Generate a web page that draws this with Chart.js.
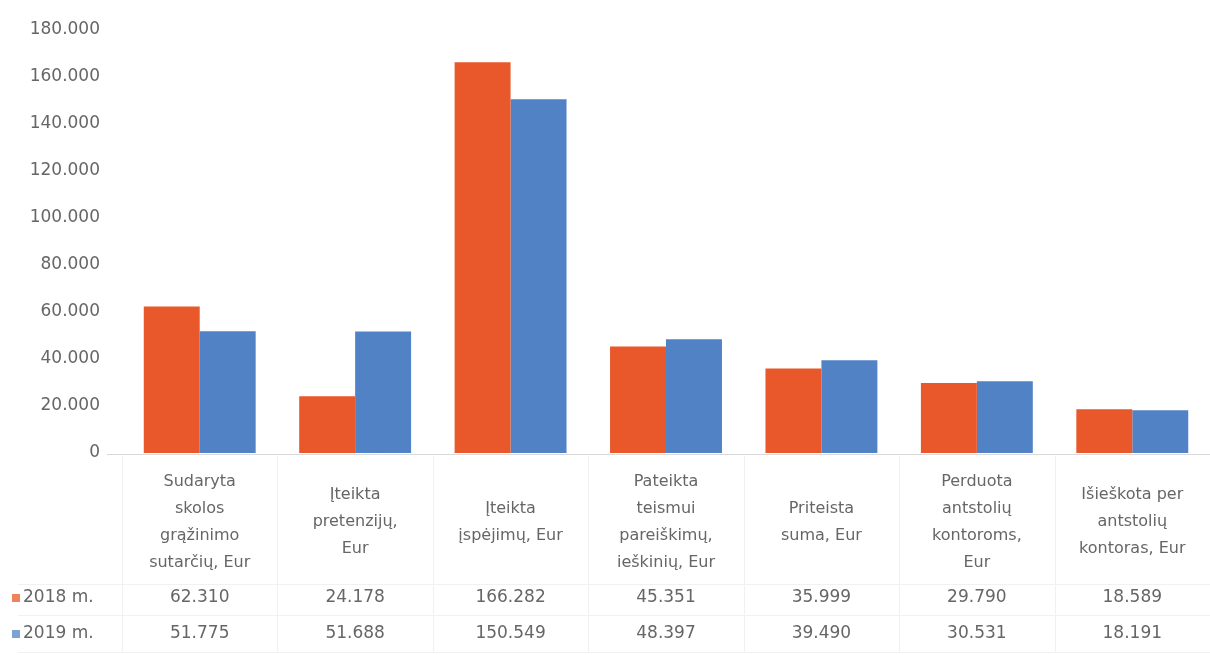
<!DOCTYPE html>
<html>
<head>
<meta charset="utf-8">
<script src="https://cdn.jsdelivr.net/npm/chart.js@4.4.1/dist/chart.umd.min.js"></script>
<style>
    html, body { margin: 0; padding: 0; background: #fff; }
    #wrap { width: 1210px; height: 655px; position: relative; }
</style>
</head>
<body>
<div id="wrap"><canvas id="debtChart"></canvas></div>
<script>
// ===================================
// Data
// ===================================
const categories = [
    ['Sudaryta', 'skolos', 'grąžinimo', 'sutarčių, Eur'],
    ['Įteikta', 'pretenzijų,', 'Eur'],
    ['Įteikta', 'įspėjimų, Eur'],
    ['Pateikta', 'teismui', 'pareiškimų,', 'ieškinių, Eur'],
    ['Priteista', 'suma, Eur'],
    ['Perduota', 'antstolių', 'kontoroms,', 'Eur'],
    ['Išieškota per', 'antstolių', 'kontoras, Eur']
];
const seriesNames = ['2018 m.', '2019 m.'];
const values2018 = [62310, 24178, 166282, 45351, 35999, 29790, 18589];
const values2019 = [51775, 51688, 150549, 48397, 39490, 30531, 18191];
const yTicks = [0, 20000, 40000, 60000, 80000, 100000, 120000, 140000, 160000, 180000];

const COLORS = ['#E9582A', '#5282C6'];
const TEXT = '#666666';
const FONT = '"DejaVu Sans", sans-serif';

// 180000 -> "180.000"
function fmt(v) {
    return String(v).replace(/\B(?=(\d{3})+(?!\d))/g, '.');
}

// Draws y labels, category labels and the data table under the plot
const dataTablePlugin = {
    id: 'dataTable',
    afterDraw(chart) {
        const { ctx, chartArea, scales: { x, y } } = chart;
        ctx.save();
        ctx.fillStyle = TEXT;

        // y axis labels
        ctx.font = '17px ' + FONT;
        ctx.textAlign = 'right';
        ctx.textBaseline = 'middle';
        yTicks.forEach(t => {
            ctx.fillText(fmt(t), 100, y.getPixelForValue(t));
        });

        // baseline
        ctx.strokeStyle = '#d9d9d9';
        ctx.lineWidth = 1;
        ctx.beginPath();
        ctx.moveTo(chartArea.left - 15, y.getPixelForValue(0) + 1.5);
        ctx.lineTo(chart.width, y.getPixelForValue(0) + 1.5);
        ctx.stroke();

        // faint table grid
        const rowTop = 584, rowMid = 615, rowBottom = 652;
        ctx.strokeStyle = '#f1f1f1';
        [rowTop, rowMid, rowBottom].forEach(ly => {
            ctx.beginPath();
            ctx.moveTo(18, ly + 0.5);
            ctx.lineTo(chart.width, ly + 0.5);
            ctx.stroke();
        });
        const half = (x.getPixelForValue(1) - x.getPixelForValue(0)) / 2;
        categories.forEach((c, i) => {
            const bx = Math.round(x.getPixelForValue(i) - half) + 0.5;
            ctx.beginPath();
            ctx.moveTo(bx, y.getPixelForValue(0) + 3);
            ctx.lineTo(bx, rowBottom);
            ctx.stroke();
        });

        // category labels, centred in their band
        ctx.font = '16px ' + FONT;
        ctx.textAlign = 'center';
        const lineH = 27;
        const bandMid = 522;
        categories.forEach((lines, i) => {
            const cx = x.getPixelForValue(i);
            const startY = bandMid - (lines.length - 1) * lineH / 2;
            lines.forEach((ln, k) => ctx.fillText(ln, cx, startY + k * lineH));
        });

        // value rows
        const rowsY = [598, 634];
        const rows = [values2018, values2019];
        ctx.font = '17px ' + FONT;
        rows.forEach((vals, r) => {
            vals.forEach((v, i) => {
                ctx.fillText(fmt(v), x.getPixelForValue(i), rowsY[r]);
            });
            // legend key + name
            ctx.fillStyle = COLORS[r];
            ctx.globalAlpha = 0.75;
            ctx.fillRect(12, rowsY[r] - 4, 8, 8);
            ctx.globalAlpha = 1;
            ctx.fillStyle = TEXT;
            ctx.textAlign = 'left';
            ctx.fillText(seriesNames[r], 23, rowsY[r]);
            ctx.textAlign = 'center';
        });

        ctx.restore();
    }
};

new Chart(document.getElementById('debtChart'), {
    type: 'bar',
    data: {
        labels: categories.map(c => c.join(' ')),
        datasets: [
            { label: seriesNames[0], data: values2018, backgroundColor: COLORS[0], borderWidth: 0 },
            { label: seriesNames[1], data: values2019, backgroundColor: COLORS[1], borderWidth: 0 }
        ]
    },
    options: {
        responsive: true,
        maintainAspectRatio: false,
        animation: false,
        layout: { padding: { left: 122, right: -10, top: 30, bottom: 202 } },
        datasets: { bar: { barPercentage: 1.0, categoryPercentage: 0.72 } },
        plugins: {
            legend: { display: false },
            tooltip: { enabled: false }
        },
        scales: {
            x: {
                display: false,
                grid: { display: false }
            },
            y: {
                display: false,
                min: 0,
                max: 180000,
                ticks: { stepSize: 20000 },
                grid: { display: false }
            }
        }
    },
    plugins: [dataTablePlugin]
});
</script>
</body>
</html>
